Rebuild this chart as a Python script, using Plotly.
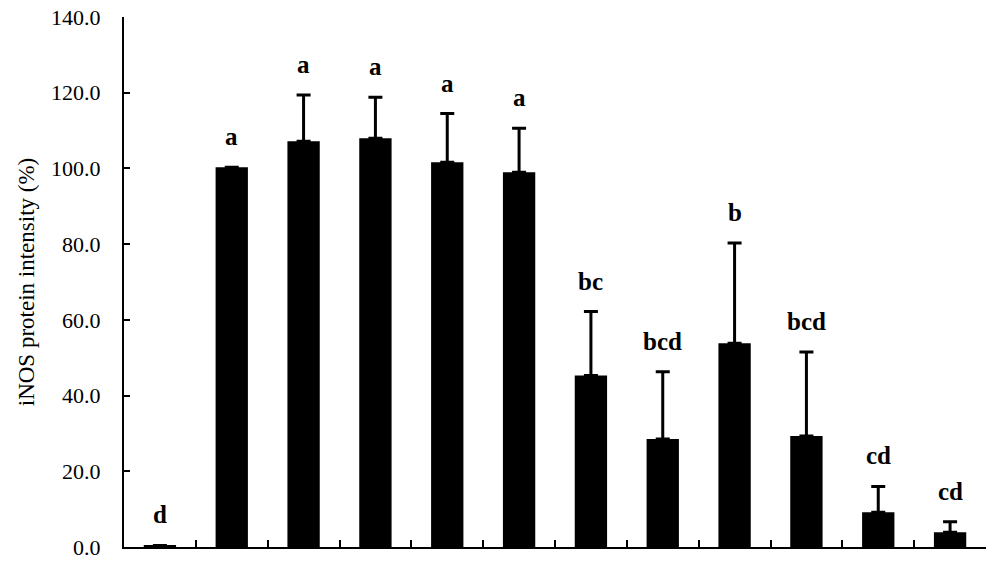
import plotly.graph_objects as go

categories = [f"G{i}" for i in range(1, 13)]
values = [0.4, 100.3, 107.2, 108.0, 101.6, 99.0, 45.3, 28.5, 53.8, 29.3, 9.2, 3.9]
errors = [0.0, 0.0, 12.2, 10.8, 12.9, 11.6, 16.9, 17.8, 26.5, 22.2, 6.8, 2.8]
letters = ["d", "a", "a", "a", "a", "a", "bc", "bcd", "b", "bcd", "cd", "cd"]
y_ticks = [0, 20, 40, 60, 80, 100, 120, 140]

fig = go.Figure()
fig.add_trace(go.Bar(
    x=categories, y=values, width=0.45,
    marker=dict(color="black", line=dict(width=0)),
    error_y=dict(type="data", array=errors, symmetric=False, arrayminus=[0]*len(errors),
                 color="black", thickness=3, width=7, visible=True),
    showlegend=False,
))

for c, v, e, t in zip(categories, values, errors, letters):
    fig.add_annotation(x=c, y=v + e, text=f"<b>{t}</b>", showarrow=False, yanchor="bottom", yshift=15,
                       font=dict(family="Liberation Serif", size=25, color="black"))

fig.update_layout(
    width=988, height=562,
    margin=dict(l=124, r=2, t=17, b=13),
    plot_bgcolor="white", paper_bgcolor="white",
)
fig.update_xaxes(
    showline=True, linecolor="black", linewidth=2,
    showticklabels=False, ticks="inside", ticklen=7, tickcolor="black", tickwidth=2,
    tickson="boundaries", showgrid=False, zeroline=False,
    range=[-0.5, 11.5],
)
fig.update_yaxes(
    range=[0, 140], tickvals=y_ticks, ticktext=[f"{v:.1f}" for v in y_ticks],
    showline=True, linecolor="black", linewidth=2,
    ticks="inside", ticklen=6, tickcolor="black", tickwidth=2,
    showgrid=False, zeroline=False,
    tickfont=dict(family="Liberation Serif", size=22, color="black"),
    ticklabelstandoff=17,
    title=dict(text="iNOS protein intensity (%)", font=dict(family="Liberation Serif", size=23, color="black"), standoff=10),
)

fig.write_html("out.html")
